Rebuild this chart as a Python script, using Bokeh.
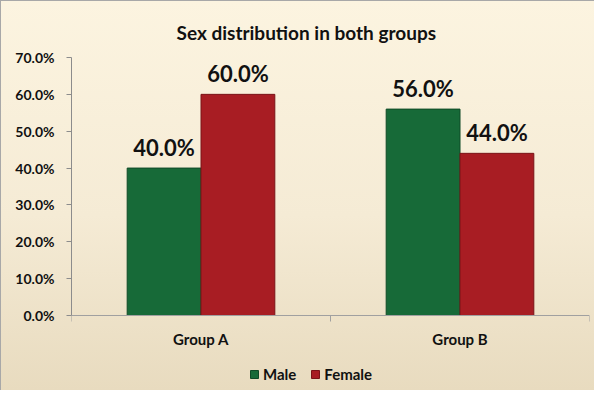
from bokeh.plotting import figure
from bokeh.models import Range1d, FixedTicker, Legend, LegendItem, ColumnDataSource, LabelSet
from bokeh.core.properties import value
from bokeh.transform import dodge
from bokeh.embed import file_html
from bokeh.resources import INLINE

# ---- data ----
groups = ["Group A", "Group B"]
male = [40.0, 56.0]
female = [60.0, 44.0]
series = ["Male", "Female"]
y_ticks = [0, 10, 20, 30, 40, 50, 60, 70]
title_text = "Sex distribution in both groups"

FONT = "Lato"
GREEN = "#176a38"
RED = "#a81d23"

# ---- layout (pixels) ----
W, H = 594, 390
TOP, LEFT, RIGHT = 56, 70, 6
AXIS_PX = 258           # pixel height of the 0..70 value axis
frame_h = H - TOP
ymax = y_ticks[-1]
ymin = ymax - ymax * frame_h / AXIS_PX   # room below 0 for labels + legend

pos = [i + 0.5 for i in range(len(groups))]
src = ColumnDataSource(dict(
    x=pos,
    male=male,
    female=female,
    male_lbl=[f"{v:.1f}%" for v in male],
    female_lbl=[f"{v:.1f}%" for v in female],
))

p = figure(width=W, height=H,
           x_range=Range1d(0, len(groups)), y_range=Range1d(ymin, ymax),
           output_backend="svg", toolbar_location=None,
           min_border_left=LEFT, min_border_right=RIGHT,
           min_border_top=TOP, min_border_bottom=0)

p.styles = {"background": "linear-gradient(to bottom, #fcf4e0 0%, #f5ebd5 55%, #e8dbbf 100%)",
            "border-top": "1px solid #a8a8a8",
            "border-left": "1px solid #a8a8a8"}
p.background_fill_alpha = 0
p.border_fill_alpha = 0
p.outline_line_color = None
p.grid.grid_line_color = None

p.title.text = title_text
p.title.align = "left"
p.title.offset = 105
p.title.text_font = FONT
p.title.text_font_size = "19px"
p.title.text_font_style = "bold"
p.title.text_color = "#111111"
p.title.standoff = 28

bw = 0.285
rm = p.vbar(x=dodge("x", -bw / 2, range=p.x_range), top="male", width=bw, source=src,
            fill_color=GREEN, line_color="#0f4a27", line_width=1)
rf = p.vbar(x=dodge("x", bw / 2, range=p.x_range), top="female", width=bw, source=src,
            fill_color=RED, line_color="#7a1418", line_width=1)

for col, lbl, off in (("male", "male_lbl", -bw / 2), ("female", "female_lbl", bw / 2)):
    ls = LabelSet(x=dodge("x", off, range=p.x_range), y=col, text=lbl, source=src,
                  text_align="center", text_baseline="alphabetic", y_offset=12,
                  text_font=value(FONT), text_font_size=value("22px"),
                  text_font_style=value("bold"), text_color="#111111")
    p.add_layout(ls)

# y axis
p.yaxis.ticker = FixedTicker(ticks=y_ticks)
p.yaxis.bounds = (y_ticks[0], y_ticks[-1])
p.yaxis.major_label_overrides = {t: f"{t:.1f}%" for t in y_ticks}
p.yaxis.major_label_text_font = FONT
p.yaxis.major_label_text_font_size = "14px"
p.yaxis.major_label_text_font_style = "bold"
p.yaxis.major_label_text_color = "#111111"
p.yaxis.major_label_standoff = 12
p.yaxis.axis_line_color = "#8c8c8c"
p.yaxis.major_tick_line_color = "#8c8c8c"
p.yaxis.major_tick_out = 5
p.yaxis.major_tick_in = 0
p.yaxis.minor_tick_line_color = None

# x axis (drawn at value 0)
p.xaxis.fixed_location = 0
p.xaxis.ticker = FixedTicker(ticks=pos, minor_ticks=list(range(len(groups) + 1)))
p.xaxis.major_label_overrides = {x: g for x, g in zip(pos, groups)}
p.xaxis.major_label_text_font = FONT
p.xaxis.major_label_text_font_size = "15px"
p.xaxis.major_label_text_font_style = "bold"
p.xaxis.major_label_text_color = "#111111"
p.xaxis.major_label_standoff = 8
p.xaxis.axis_line_color = "#a0a0a0"
p.xaxis.major_tick_out = 0
p.xaxis.major_tick_in = 0
p.xaxis.major_tick_line_color = None
p.xaxis.minor_tick_line_color = "#a0a0a0"
p.xaxis.minor_tick_out = 6
p.xaxis.minor_tick_in = 0

legend = Legend(items=[LegendItem(label=series[0], renderers=[rm]),
                       LegendItem(label=series[1], renderers=[rf])],
                orientation="horizontal", location=(178, 8))
legend.background_fill_alpha = 0
legend.border_line_color = None
legend.label_text_font = FONT
legend.label_text_font_size = "15px"
legend.label_text_font_style = "bold"
legend.label_text_color = "#111111"
legend.glyph_width = 10
legend.glyph_height = 10
legend.label_standoff = 4
legend.spacing = 14
legend.padding = 4
legend.margin = 0
p.add_layout(legend, "center")

open("out.html", "w").write(file_html(p, INLINE))
